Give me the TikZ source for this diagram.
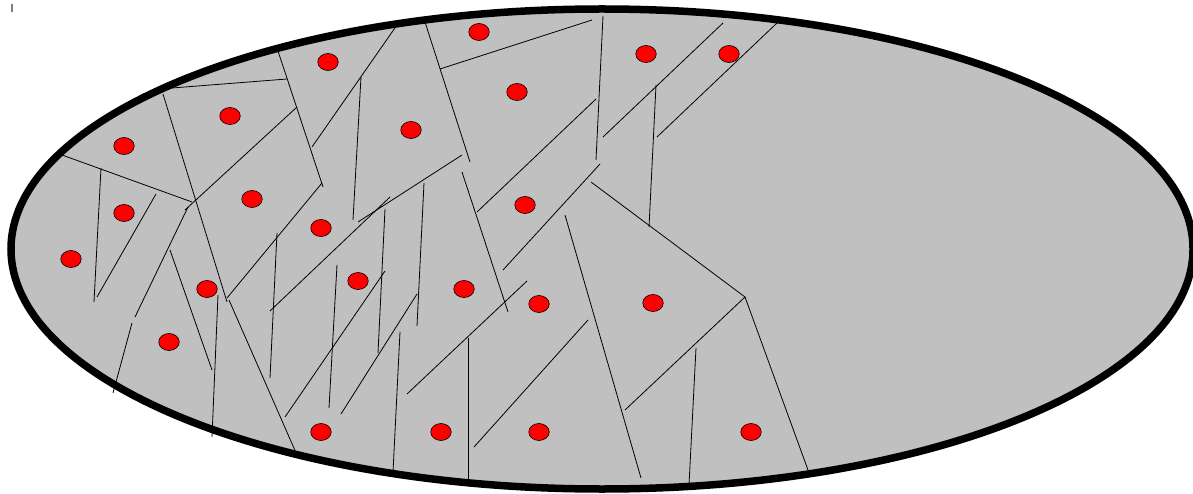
\documentclass[tikz,border=0pt]{standalone}
\usepackage{xcolor}
\usepackage{tikz}
\usetikzlibrary{shapes.geometric}
\definecolor{platesilver}{RGB}{192,192,192}
\definecolor{grainred}{RGB}{255,0,0}
\definecolor{tickgray}{RGB}{128,128,128}

\begin{document}
\begin{tikzpicture}[x=1pt, y=-1pt,
        boundary/.style={draw=black, line width=7.5pt, fill=platesilver},
        crack/.style={draw=black, line width=0.8pt},
        grain/.style={ellipse, draw=black, line width=0.6pt, fill=grainred, minimum width=20.5pt, minimum height=17pt, inner sep=0pt}]

    \useasboundingbox (0,0) rectangle (1193,494);
    \draw[tickgray, line width=1.6pt] (12,4) -- (12,12);

    % outer boundary
    \path[boundary] (602,249) ellipse [x radius=591, y radius=240];

    % cracks
    \foreach \xa/\ya/\xb/\yb in {277/48/323/187, 172/88/287/79, 163/94/227/302, 62/155/192/202,
            101/168/94/302, 156/194/97/297, 297/107/185/210, 188/207/135/317,
            322/183/227/298, 277/233/270/378, 132/323/113/393, 170/250/212/370,
            218/295/212/437, 229/300/297/455, 270/311/390/197, 358/222/462/155,
            397/25/312/147, 361/77/353/220, 425/22/470/162, 440/69/592/20,
            462/172/508/312, 477/212/596/99, 503/270/600/164, 565/215/641/478,
            424/183/417/326, 385/209/378/353, 337/265/329/408, 385/271/285/417,
            417/294/341/414, 400/332/393/472, 527/281/407/394, 468/338/468/481,
            588/320/474/447, 603/16/596/160, 723/23/603/137, 777/23/657/137,
            656/85/649/227, 591/182/745/297, 745/297/625/410, 745/297/808/470,
            696/348/689/485}
        \draw[crack] (\xa,\ya) -- (\xb,\yb);

    % grains
    \foreach \gx/\gy [count=\i] in {124/146, 230/116, 328/62, 479/32, 517/92, 411/130,
            646/54, 729/54, 124/213, 252/199, 321/228, 525/205, 71/259, 207/289,
            358/281, 464/289, 539/304, 653/303, 169/342, 321/432, 441/432,
            539/432, 751/432}
        \node[grain] (g\i) at (\gx,\gy) {};
\end{tikzpicture}
\end{document}
